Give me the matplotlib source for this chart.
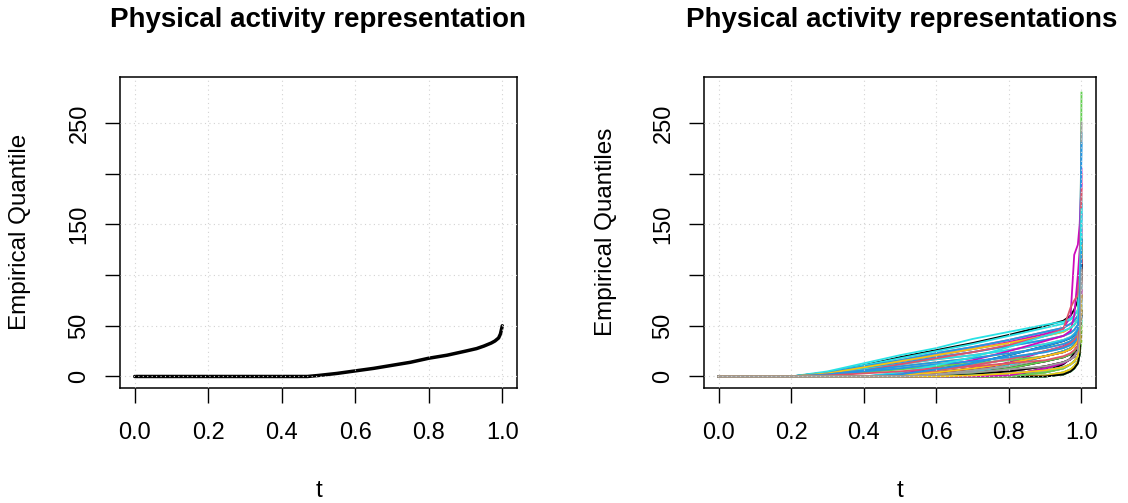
import matplotlib
matplotlib.use("Agg")
import matplotlib.pyplot as plt

plt.rcParams['font.family'] = ['Liberation Sans', 'DejaVu Sans']

# ---------------- data ----------------
# Left panel: a single empirical quantile function
t_single = [0.0, 0.47, 0.5, 0.55, 0.6, 0.65, 0.7, 0.75, 0.8, 0.85, 0.9,
            0.93, 0.95, 0.97, 0.98, 0.99, 0.995, 1.0]
q_single = [0, 0, 1, 3, 5.5, 8, 11, 14, 18, 21, 25,
            27.5, 30, 33, 35, 38, 42, 50]

# Right panel: many empirical quantile functions evaluated on a common grid
t_grid = [0, 0.2, 0.3, 0.4, 0.5, 0.6, 0.7, 0.8, 0.9, 0.95, 0.97, 0.98, 0.99, 0.995, 1.0]
q_curves = [
    # round 1
    [0, 0, 0, 0, 0, 0, 0, 0.5, 5, 12, 18, 23, 28, 40, 60],
    [0, 0, 4, 10, 16, 23, 29, 36, 44, 48, 52, 55, 60, 90, 200],
    [0, 0, 0, 0, 0, 0, 0, 0, 0, 2, 5, 8, 13, 22, 280],
    [0, 0, 3, 9, 15, 21, 27, 33, 40, 44, 48, 51, 56, 85, 240],
    [0, 0, 0, 0, 2, 7, 13, 21, 30, 35, 38, 41, 46, 70, 170],
    [0, 0, 0, 0, 2, 6, 11, 17, 25, 29, 33, 36, 41, 65, 205],
    [0, 0, 0, 0, 0, 0, 2, 5, 10, 14, 17, 20, 25, 40, 130],
    [0, 0, 3, 8, 13, 19, 24, 30, 36, 40, 43, 46, 51, 80, 250],
    # round 2
    [0, 0, 4, 11, 19, 26, 33, 41, 50, 55, 60, 66, 75, 110, 135],
    [0, 0, 0, 0, 0, 0, 3, 8, 15, 19, 22, 25, 30, 50, 90],
    [0, 0, 0, 0, 1, 4, 8, 13, 20, 24, 27, 30, 35, 55, 110],
    [0, 0, 0, 0, 0, 0, 0, 0, 4, 8, 12, 15, 20, 35, 60],
    [0, 0, 4, 11, 18, 25, 32, 40, 48, 52, 56, 60, 66, 100, 160],
    [0, 0, 3, 9, 15, 21, 27, 34, 42, 47, 60, 120, 130, 150, 190],
    [0, 0, 0, 0, 2, 6, 11, 17, 25, 29, 33, 36, 41, 65, 125],
    [0, 0, 0, 0, 0, 0, 2, 5, 10, 14, 17, 20, 25, 40, 100],
    # round 3
    [0, 0, 0, 0, 2, 7, 13, 21, 30, 35, 38, 41, 46, 70, 135],
    [0, 0, 2, 7, 12, 17, 21, 26, 32, 36, 39, 42, 47, 75, 150],
    [0, 0, 0, 0, 0, 0, 0, 0, 1, 4, 7, 10, 15, 25, 70],
    [0, 0, 4, 10, 16, 23, 29, 36, 44, 48, 52, 55, 60, 90, 230],
    [0, 0, 5, 13, 21, 28, 37, 44, 51, 54, 57, 60, 65, 90, 175],
    [0, 0, 0, 0, 0, 0, 3, 8, 15, 19, 22, 25, 30, 50, 120],
    [0, 0, 2, 6, 10, 14, 18, 23, 28, 32, 35, 38, 43, 70, 130],
    [0, 0, 0, 0, 0, 0, 0, 0, 4, 8, 12, 15, 20, 35, 80],
    # round 4
    [0, 0, 0, 0, 0, 0, 4, 11, 20, 25, 28, 31, 36, 60, 110],
    [0, 0, 0, 0, 1, 4, 8, 13, 20, 24, 27, 30, 35, 55, 115],
    [0, 0, 0, 0, 0, 0, 0, 0, 0, 2, 5, 8, 13, 22, 55],
    [0, 0, 3, 8, 13, 19, 24, 30, 36, 40, 43, 46, 51, 80, 170],
    [0, 0, 2, 7, 12, 17, 21, 26, 32, 36, 39, 42, 47, 75, 150],
    [0, 0, 0, 0, 0, 0, 5, 14, 25, 30, 34, 37, 42, 65, 145],
    [0, 0, 0, 0, 0, 0, 0, 0, 1, 4, 7, 10, 15, 25, 50],
    [0, 0, 1, 5, 8, 12, 15, 19, 24, 28, 31, 34, 38, 60, 180],
    # round 5
    [0, 0, 0, 0, 0, 0, 0, 1, 8, 13, 17, 20, 25, 40, 80],
    [0, 0, 0, 0, 0, 0, 2, 5, 10, 14, 17, 20, 25, 40, 95],
    [0, 0, 0, 0, 1, 3, 6, 10, 15, 19, 22, 25, 30, 50, 105],
    [0, 0, 0, 0, 0, 0, 0, 0, 0, 2, 5, 8, 13, 22, 45],
    [0, 0, 0, 0, 0, 0, 4, 11, 20, 25, 28, 31, 36, 60, 120],
    [0, 0, 0, 0, 3, 9, 16, 25, 35, 40, 45, 60, 100, 125, 160],
    [0, 0, 0, 0, 0, 0, 0, 0, 4, 8, 12, 15, 20, 35, 65],
    [0, 0, 0, 0, 1, 3, 6, 10, 15, 19, 22, 25, 30, 50, 140],
    # round 6
    [0, 0, 0, 0, 1, 4, 8, 13, 20, 24, 27, 30, 35, 55, 100],
    [0, 0, 0, 0, 0, 0, 1, 3, 6, 9, 12, 15, 20, 35, 85],
    [0, 0, 1, 4, 7, 10, 13, 16, 20, 24, 27, 30, 34, 55, 125],
    [0, 0, 0, 0, 0, 0, 1, 3, 6, 9, 12, 15, 20, 35, 75],
    [0, 0, 0, 0, 0, 0, 0, 0, 1, 4, 7, 10, 15, 25, 55],
    [0, 0, 0, 0, 0, 0, 2, 5, 10, 14, 17, 20, 25, 40, 100],
    [0, 0, 3, 9, 15, 21, 27, 33, 40, 44, 48, 51, 56, 85, 130],
    [0, 0, 0, 0, 0, 0, 0, 0, 0, 2, 5, 8, 13, 22, 40],
    # round 7
    [0, 0, 0, 0, 0, 0, 3, 8, 15, 19, 22, 25, 30, 50, 115],
    [0, 0, 2, 6, 12, 18, 24, 31, 40, 47, 68, 75, 80, 100, 185],
    [0, 0, 0, 0, 0, 0, 0, 0, 0, 2, 5, 8, 13, 22, 35],
    [0, 0, 2, 6, 10, 14, 18, 23, 28, 32, 35, 38, 43, 70, 155],
    [0, 0, 0, 0, 2, 6, 11, 17, 25, 29, 33, 36, 41, 65, 140],
    [0, 0, 0, 0, 1, 4, 8, 13, 20, 24, 27, 30, 35, 55, 120],
    [0, 0, 0, 0, 0, 0, 0, 0, 1, 4, 7, 10, 15, 25, 45],
    [0, 0, 0, 0, 0, 0, 2, 5, 10, 14, 17, 20, 25, 40, 95],
    # round 8
    [0, 0, 0, 0, 0, 0, 0, 0, 0, 2, 5, 8, 13, 22, 65],
    [0, 0, 0, 0, 2, 6, 11, 17, 25, 29, 33, 36, 41, 65, 130],
    [0, 0, 0, 0, 0, 0, 3, 8, 15, 19, 22, 25, 30, 50, 100],
    [0, 0, 1, 5, 8, 12, 15, 19, 24, 28, 31, 34, 38, 60, 135],
    [0, 0, 0, 0, 4, 11, 19, 29, 40, 45, 48, 51, 56, 85, 165],
    [0, 0, 0, 0, 0, 0, 1, 3, 6, 9, 12, 15, 20, 35, 115],
    [0, 0, 0, 0, 1, 4, 8, 13, 20, 24, 27, 30, 35, 55, 120],
    [0, 0, 0, 0, 0, 0, 0, 0, 4, 8, 12, 15, 20, 35, 70],
    # round 9
    [0, 0, 0, 0, 0, 0, 2, 5, 10, 14, 17, 20, 25, 40, 110],
    [0, 0, 1, 3, 5, 8, 10, 13, 16, 20, 23, 26, 30, 50, 105],
    [0, 0, 0, 0, 0, 0, 0, 0, 4, 8, 12, 15, 20, 35, 50],
    [0, 0, 0, 0, 2, 7, 13, 21, 30, 35, 38, 41, 46, 70, 125],
    [0, 0, 0, 0, 0, 0, 1, 3, 6, 9, 12, 15, 20, 35, 90],
    [0, 0, 0, 0, 0, 0, 0, 1, 8, 13, 17, 20, 25, 40, 85],
    [0, 0, 0, 0, 0, 0, 1, 3, 6, 9, 12, 15, 20, 35, 80],
    [0, 0, 0, 0, 0, 2, 4, 7, 10, 14, 17, 20, 25, 40, 105],
]

# R default palette (cycled by matplot)
palette = ['#000000', '#DF536B', '#61D04F', '#2297E6',
           '#28E2E5', '#CD0BBC', '#F5C710', '#9E9E9E']

x_ticks = [0.0, 0.2, 0.4, 0.6, 0.8, 1.0]
x_ticklabels = ['0.0', '0.2', '0.4', '0.6', '0.8', '1.0']
y_ticks = [0, 50, 100, 150, 200, 250]
y_ticklabels = ['0', '50', '', '150', '', '250']

titles = ['Physical activity representation', 'Physical activity representations']
ylabels = ['Empirical Quantile', 'Empirical Quantiles']
xlabel = 't'

# ---------------- figure ----------------
W, H = 1128, 503
fig = plt.figure(figsize=(W / 100, H / 100), dpi=100)

def px_axes(x0, x1, y0, y1):
    return fig.add_axes([x0 / W, 1 - y1 / H, (x1 - x0) / W, (y1 - y0) / H])

L1, R1 = 120, 517
L2, R2 = 704, 1096
TOP, BOT = 77, 388
ax1 = px_axes(L1, R1, TOP, BOT)
ax2 = px_axes(L2, R2, TOP, BOT)

ymax = 284
for ax in (ax1, ax2):
    ax.set_xlim(-0.04, 1.04)
    ax.set_ylim(-0.04 * ymax, 1.04 * ymax)
    ax.set_xticks(x_ticks)
    ax.set_xticklabels(x_ticklabels)
    ax.set_yticks(y_ticks)
    ax.set_yticklabels(y_ticklabels, rotation=90, va='center')
    ax.tick_params(axis='both', direction='out', length=10.5, width=1.0,
                   labelsize=17, color='black')
    ax.tick_params(axis='x', pad=14)
    ax.tick_params(axis='y', pad=10.8)
    for sp in ax.spines.values():
        sp.set_linewidth(1.1)
    for xv in x_ticks:
        ax.axvline(xv, color='#D3D3D3', lw=0.8, linestyle=(0, (1, 3)), zorder=5)
    for yv in y_ticks:
        ax.axhline(yv, color='#D3D3D3', lw=0.8, linestyle=(0, (1, 3)), zorder=5)

# left panel
ax1.plot(t_single, q_single, color='black', lw=2.5, zorder=3,
         solid_capstyle='round')

# right panel
for i, q in enumerate(q_curves):
    ax2.plot(t_grid, q, color=palette[i % len(palette)], lw=1.3, zorder=3)

# titles & axis labels
for cx, title in zip((318, 901.5), titles):
    fig.text(cx / W, 1 - 27 / H, title, ha='center', va='baseline',
             fontsize=20, fontweight='bold')
for cx in ((L1 + R1) / 2, (L2 + R2) / 2):
    fig.text(cx / W, 1 - 497 / H, xlabel, ha='center', va='baseline',
             fontsize=17.5)
for cx, lab in zip((20, 606), ylabels):
    fig.text(cx / W, 1 - 232 / H, lab, ha='center', va='center',
             rotation=90, fontsize=17.5)

fig.savefig('out.png', dpi=100)
